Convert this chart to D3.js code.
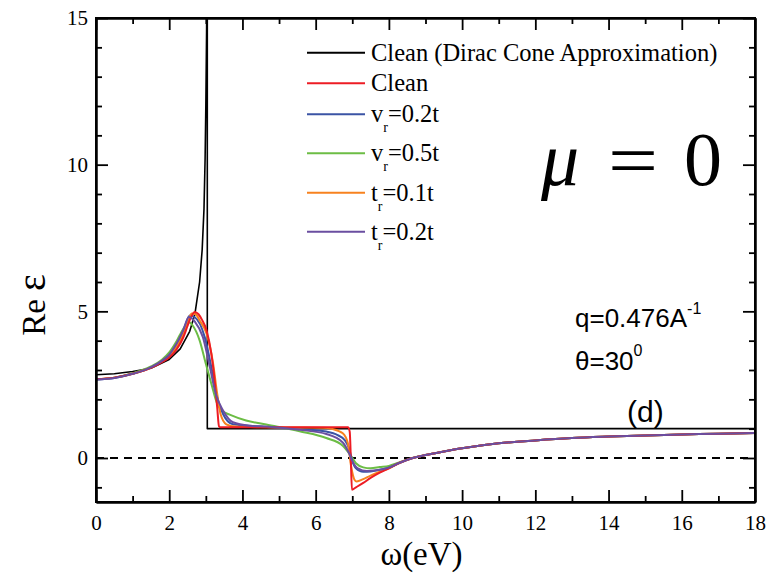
<!DOCTYPE html>
<html>
<head>
<meta charset="utf-8">
<script src="https://cdn.jsdelivr.net/npm/d3@7.9.0/dist/d3.min.js"></script>
<style>
  body { margin: 0; background: #fff; }
  svg { display: block; }
</style>
</head>
<body>
<svg id="chart" width="771" height="573"></svg>
<script>
const SERIF = "'Liberation Serif', 'Times New Roman', serif";
const SANS = "'Liberation Sans', Arial, sans-serif";

// values (omega in eV, Re eps)
const xMajorTicks = [0, 2, 4, 6, 8, 10, 12, 14, 16, 18];
const xMinorTicks = [1, 3, 5, 7, 9, 11, 13, 15, 17];
const yMajorTicks = [0, 5, 10, 15];
const yMinorTicks = [-1, 1, 2, 3, 4, 6, 7, 8, 9, 11, 12, 13, 14];

// long-omega tail, all disordered/clean curves lie on top of each other here
const tailValues = [[9, 0.1], [9.5, 0.22], [10, 0.33], [11, 0.5], [12, 0.6], [13, 0.68],
  [14, 0.73], [15, 0.77], [16, 0.8], [17, 0.83], [18, 0.85]];

const diracCone = [[0, 2.84], [0.5, 2.87], [1, 2.95], [1.5, 3.06], [2, 3.36], [2.3, 3.72],
  [2.56, 4.32], [2.7, 4.9], [2.83, 6.0], [2.9, 7.1], [2.95, 8.5], [2.98, 10.2], [3.0, 12],
  [3.02, 14.5], [3.035, 17], [3.04, 17], [3.04, 1], [18, 1]];

const clean = [[0, 2.69], [0.5, 2.74], [1, 2.87], [1.5, 3.07], [1.8, 3.27], [2.0, 3.43],
  [2.2, 3.7], [2.38, 4.1], [2.5, 4.5], [2.6, 4.82], [2.7, 4.98], [2.8, 4.9], [2.9, 4.7],
  [3.02, 4.35], [3.15, 3.56], [3.24, 2.65], [3.31, 1.73], [3.36, 1.08], [3.4, 1.05],
  [4, 1.05], [5, 1.05], [6, 1.05], [6.5, 1.05], [6.88, 1.05], [6.93, 0.9], [6.96, 0],
  [6.99, -1.08], [7.1, -1.0], [7.3, -0.85], [7.5, -0.68], [7.75, -0.5], [8, -0.35],
  [8.28, -0.17], [8.65, 0], ...tailValues];

const vr02 = [[0, 2.68], [0.5, 2.73], [1, 2.87], [1.5, 3.09], [1.8, 3.3], [2.0, 3.5],
  [2.2, 3.85], [2.38, 4.3], [2.56, 4.86], [2.7, 4.8], [2.97, 4.12], [3.15, 3.1],
  [3.31, 2.07], [3.47, 1.5], [3.74, 1.15], [4.65, 1.06], [5.56, 0.99], [6.29, 0.9],
  [6.6, 0.78], [6.8, 0.6], [6.92, 0.3], [7.0, -0.1], [7.1, -0.35], [7.3, -0.47],
  [7.5, -0.46], [7.75, -0.4], [8, -0.33], [8.28, -0.17], [8.65, 0], ...tailValues];

const vr05 = [[0, 2.68], [0.5, 2.74], [1, 2.89], [1.5, 3.12], [1.8, 3.35], [2.0, 3.6],
  [2.2, 3.98], [2.38, 4.4], [2.54, 4.63], [2.65, 4.5], [2.83, 4.01], [3.0, 3.21],
  [3.15, 2.53], [3.31, 1.85], [3.45, 1.6], [3.65, 1.48], [4.1, 1.28], [4.65, 1.14],
  [5.56, 0.91], [6.29, 0.68], [6.74, 0.42], [6.96, 0.08], [7.1, -0.18], [7.3, -0.32],
  [7.5, -0.35], [7.75, -0.31], [8, -0.27], [8.28, -0.15], [8.65, 0], ...tailValues];

const tr01 = [[0, 2.69], [0.5, 2.74], [1, 2.87], [1.5, 3.08], [1.8, 3.29], [2.0, 3.46],
  [2.2, 3.78], [2.38, 4.2], [2.5, 4.6], [2.61, 4.93], [2.72, 4.9], [2.85, 4.65],
  [3.02, 4.24], [3.2, 3.21], [3.31, 2.19], [3.4, 1.51], [3.56, 1.15], [3.8, 1.07],
  [4.5, 1.05], [5.5, 1.04], [6.2, 1.03], [6.46, 0.99], [6.74, 0.84], [6.88, 0.5],
  [6.97, -0.3], [7.06, -0.74], [7.12, -0.8], [7.3, -0.72], [7.5, -0.6], [7.75, -0.47],
  [8, -0.35], [8.28, -0.17], [8.65, 0], ...tailValues];

const tr02 = [[0, 2.68], [0.5, 2.73], [1, 2.87], [1.5, 3.09], [1.8, 3.31], [2.0, 3.52],
  [2.2, 3.9], [2.38, 4.35], [2.54, 4.81], [2.7, 4.65], [2.92, 4.12], [3.11, 3.1],
  [3.27, 2.19], [3.47, 1.62], [3.74, 1.22], [4.2, 1.1], [4.65, 1.07], [5.56, 0.96],
  [6.29, 0.82], [6.74, 0.53], [6.92, 0.14], [7.0, -0.1], [7.15, -0.35], [7.4, -0.44],
  [7.6, -0.43], [8, -0.33], [8.28, -0.17], [8.65, 0], ...tailValues];

const seriesNames = ["Clean (Dirac Cone Approximation)", "Clean", "v_r=0.2t", "v_r=0.5t", "t_r=0.1t", "t_r=0.2t"];
const seriesData = [diracCone, clean, vr02, vr05, tr01, tr02];
const seriesColors = ["#000000", "#ed1c24", "#3b54a5", "#6cbd45", "#f7821f", "#6a4ea0"];

const margin = {top: 18, right: 16, bottom: 71, left: 96};
const width = 771 - margin.left - margin.right;
const height = 573 - margin.top - margin.bottom;

const svg = d3.select("#chart");
const g = svg.append("g").attr("transform", `translate(${margin.left},${margin.top})`);

const x = d3.scaleLinear().domain([0, 18]).range([0, width]);
const y = d3.scaleLinear().domain([-1.5, 15]).range([height, 0]);

g.append("clipPath").attr("id", "clip")
  .append("rect").attr("width", width).attr("height", height);

// zero reference
g.append("line")
  .attr("x1", 0).attr("x2", width)
  .attr("y1", y(0)).attr("y2", y(0))
  .attr("stroke", "#000").attr("stroke-width", 2)
  .attr("stroke-dasharray", "8,6");

const plot = g.append("g").attr("clip-path", "url(#clip)");

const straight = d3.line().x(d => x(d[0])).y(d => y(d[1]));
const smooth = d3.line().x(d => x(d[0])).y(d => y(d[1])).curve(d3.curveMonotoneX);

// draw order: dirac first, then the others
const order = [0, 3, 2, 4, 1, 5];
order.forEach(i => {
  plot.append("path")
    .datum(seriesData[i])
    .attr("fill", "none")
    .attr("stroke", seriesColors[i])
    .attr("stroke-width", i === 0 ? 1.6 : 2)
    .attr("stroke-linejoin", "round")
    .attr("d", i === 0 ? straight : smooth);
});

// axes, ticks pointing inward on all four sides
function styleAxis(sel) {
  sel.attr("font-family", SERIF).attr("font-size", 21);
  sel.selectAll("path.domain").attr("stroke", "#000").attr("stroke-width", 2);
  sel.selectAll(".tick line").attr("stroke", "#000").attr("stroke-width", 1.8);
  sel.selectAll("text").style("font-family", SERIF).attr("fill", "#000");
}

g.append("g").attr("transform", `translate(0,${height})`)
  .call(d3.axisBottom(x).tickValues(xMajorTicks).tickSize(-12).tickSizeOuter(0).tickPadding(13).tickFormat(d3.format("d")))
  .call(styleAxis);
g.append("g").attr("transform", `translate(0,${height})`)
  .call(d3.axisBottom(x).tickValues(xMinorTicks).tickSize(-6).tickSizeOuter(0).tickFormat(""))
  .call(styleAxis);
g.append("g")
  .call(d3.axisTop(x).tickValues(xMajorTicks).tickSize(-12).tickSizeOuter(0).tickFormat(""))
  .call(styleAxis);
g.append("g")
  .call(d3.axisTop(x).tickValues(xMinorTicks).tickSize(-6).tickSizeOuter(0).tickFormat(""))
  .call(styleAxis);

g.append("g")
  .call(d3.axisLeft(y).tickValues(yMajorTicks).tickSize(-12).tickSizeOuter(0).tickPadding(8).tickFormat(d3.format("d")))
  .call(styleAxis);
g.append("g")
  .call(d3.axisLeft(y).tickValues(yMinorTicks).tickSize(-6).tickSizeOuter(0).tickFormat(""))
  .call(styleAxis);
g.append("g").attr("transform", `translate(${width},0)`)
  .call(d3.axisRight(y).tickValues(yMajorTicks).tickSize(-12).tickSizeOuter(0).tickFormat(""))
  .call(styleAxis);
g.append("g").attr("transform", `translate(${width},0)`)
  .call(d3.axisRight(y).tickValues(yMinorTicks).tickSize(-6).tickSizeOuter(0).tickFormat(""))
  .call(styleAxis);

// frame
g.append("rect").attr("width", width).attr("height", height)
  .attr("fill", "none").attr("stroke", "#000").attr("stroke-width", 2);

// axis titles
svg.append("text").style("font-family", SERIF)
  .attr("x", margin.left + width / 2 - 4).attr("y", 565)
  .attr("text-anchor", "middle").attr("font-size", 33)
  .text("ω(eV)");

const yTitle = svg.append("text").style("font-family", SERIF)
  .attr("transform", "translate(45,305) rotate(-90)")
  .attr("text-anchor", "middle").attr("font-size", 33);
yTitle.append("tspan").text("Re ");
yTitle.append("tspan").attr("font-size", 40).text("ε");

// legend
const legendRows = [52.7, 83.3, 114.3, 153.3, 192.7, 231.7];
const legend = svg.append("g");
seriesNames.forEach((name, i) => {
  const ly = legendRows[i];
  legend.append("line")
    .attr("x1", 307).attr("x2", 365).attr("y1", ly).attr("y2", ly)
    .attr("stroke", seriesColors[i]).attr("stroke-width", 2);
  const t = legend.append("text").style("font-family", SERIF)
    .attr("x", 371).attr("y", ly + 8).attr("font-size", 24.5);
  const parts = name.split("_");
  if (parts.length === 1) {
    t.text(name);
  } else {
    t.append("tspan").text(parts[0]);
    t.append("tspan").attr("font-size", 14).attr("dy", 10).text(parts[1].slice(0, 1));
    t.append("tspan").attr("dy", -10).text(parts[1].slice(1));
  }
});

// mu = 0
svg.append("text").style("font-family", SERIF).attr("x", 541).attr("y", 185)
  .attr("font-size", 76).attr("font-style", "italic").text("μ");
svg.append("text").style("font-family", SERIF)
  .attr("transform", "translate(608,185) scale(1.2,1)")
  .attr("font-size", 74).text("=");
svg.append("text").style("font-family", SERIF).attr("x", 684).attr("y", 185)
  .attr("font-size", 76).text("0");

// parameters
const q = svg.append("text").style("font-family", SANS).attr("x", 575).attr("y", 327).attr("font-size", 26);
q.append("tspan").text("q=0.476A");
q.append("tspan").attr("font-size", 16).attr("dy", -13).text("-1");
const th = svg.append("text").style("font-family", SANS).attr("x", 575).attr("y", 370).attr("font-size", 26);
th.append("tspan").text("θ=30");
th.append("tspan").attr("font-size", 16).attr("dy", -14).text("0");
svg.append("text").style("font-family", SANS).attr("x", 627).attr("y", 422).attr("font-size", 30).text("(d)");
</script>
</body>
</html>
